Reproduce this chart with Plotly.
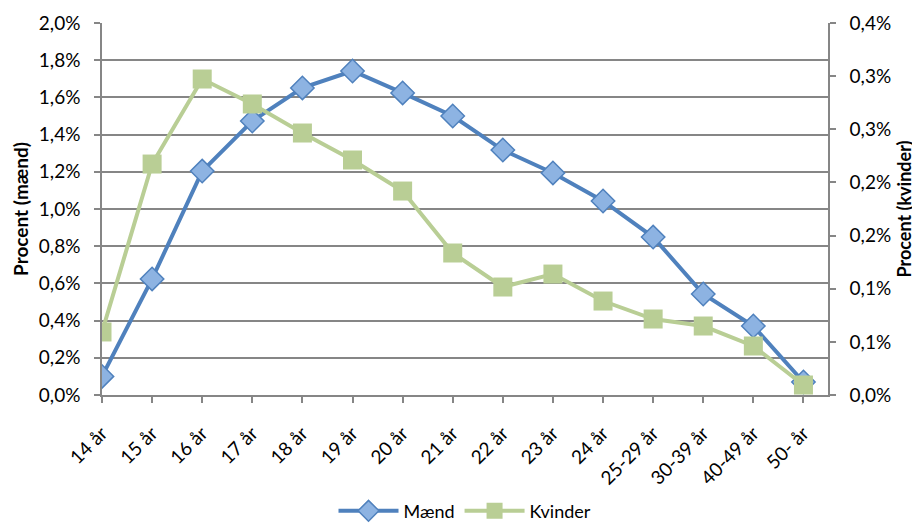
import plotly.graph_objects as go

categories = ["14 år", "15 år", "16 år", "17 år", "18 år", "19 år", "20 år", "21 år",
              "22 år", "23 år", "24 år", "25-29 år", "30-39 år", "40-49 år", "50- år"]
maend = [0.10, 0.624, 1.204, 1.473, 1.651, 1.742, 1.624, 1.50, 1.317, 1.194, 1.043,
         0.849, 0.543, 0.371, 0.07]
kvinder = [0.0593, 0.2173, 0.2973, 0.2738, 0.2465, 0.2211, 0.1919, 0.1336, 0.1016,
           0.1138, 0.0884, 0.0715, 0.0649, 0.0461, 0.0094]

left_ticks = [0.0, 0.2, 0.4, 0.6, 0.8, 1.0, 1.2, 1.4, 1.6, 1.8, 2.0]
left_text = ["0,0%", "0,2%", "0,4%", "0,6%", "0,8%", "1,0%", "1,2%", "1,4%", "1,6%", "1,8%", "2,0%"]
right_ticks = [0.0, 0.05, 0.10, 0.15, 0.20, 0.25, 0.30, 0.35]
right_text = ["0,0%", "0,1%", "0,1%", "0,2%", "0,2%", "0,3%", "0,3%", "0,4%"]

xi = list(range(len(categories)))
font = "Lato, Open Sans, sans-serif"
grey = "#868686"

fig = go.Figure()
fig.add_trace(go.Scatter(
    x=xi, y=maend, name="Mænd", mode="lines+markers",
    line=dict(color="#4F81BD", width=4),
    marker=dict(symbol="diamond", size=18, color="#8DB3E2",
                line=dict(color="#4F81BD", width=1.5)),
    yaxis="y"))
fig.add_trace(go.Scatter(
    x=xi, y=kvinder, name="Kvinder", mode="lines+markers",
    line=dict(color="#B9CE95", width=4),
    marker=dict(symbol="square", size=19, color="#B9CE95",
                line=dict(color="#B9CE95", width=0)),
    yaxis="y2"))

axis_common = dict(showline=True, linecolor=grey, linewidth=1.5,
                   ticks="outside", ticklen=6, tickcolor=grey, tickwidth=1.5,
                   tickfont=dict(size=19), zeroline=False, automargin=False)

fig.update_layout(
    width=912, height=516,
    margin=dict(l=94, r=92, t=15, b=129, autoexpand=False),
    paper_bgcolor="white", plot_bgcolor="white",
    font=dict(family=font, size=19, color="#000000"),
    showlegend=True,
    legend=dict(orientation="h", x=0.5, xanchor="center", y=-0.312, yanchor="middle",
                font=dict(size=18), itemwidth=60, tracegroupgap=0),
    xaxis=dict(range=[0, 14.49], tickvals=xi, ticktext=categories, tickangle=-45,
               showgrid=False, ticklabelstandoff=12, **axis_common),
    yaxis=dict(range=[0, 2.0], tickvals=left_ticks, ticktext=left_text,
               showgrid=True, gridcolor=grey, gridwidth=1.5, ticklabelstandoff=10,
               **axis_common),
    yaxis2=dict(range=[0, 0.35], tickvals=right_ticks, ticktext=right_text,
                overlaying="y", side="right", showgrid=False, ticklabelstandoff=10,
                **axis_common),
    annotations=[
        dict(text="<b>Procent (mænd)</b>", xref="paper", yref="paper",
             x=-0.113, y=0.5, xanchor="center", yanchor="middle", textangle=-90,
             showarrow=False, font=dict(size=19)),
        dict(text="<b>Procent (kvinder)</b>", xref="paper", yref="paper",
             x=1.104, y=0.5, xanchor="center", yanchor="middle", textangle=-90,
             showarrow=False, font=dict(size=18)),
    ],
)

fig.write_html("out.html")
